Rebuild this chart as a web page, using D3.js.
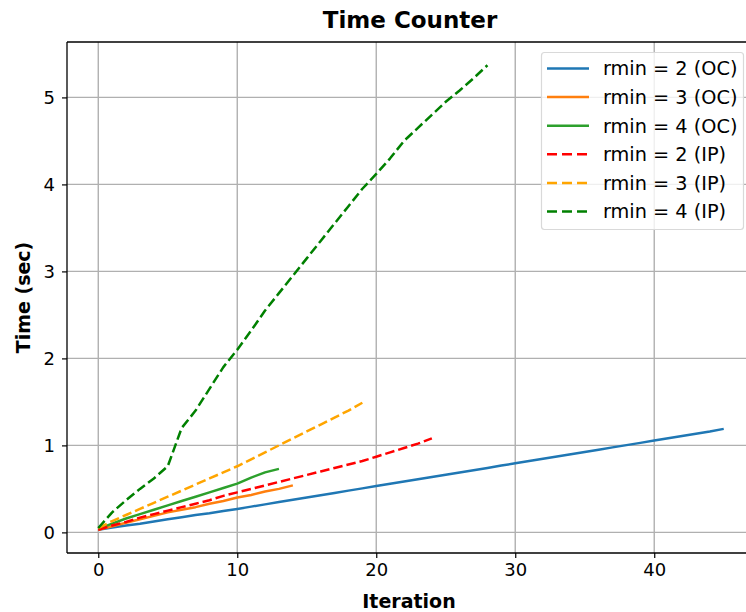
<!DOCTYPE html>
<html>
<head>
<meta charset="utf-8">
<script src="https://cdn.jsdelivr.net/npm/d3@7/dist/d3.min.js"></script>
<style>
  html, body { margin: 0; padding: 0; background: #fff; }
  svg { display: block; font-family: "DejaVu Sans", sans-serif; }
</style>
</head>
<body>
<svg id="chart" width="746" height="612"></svg>
<script>
// Time per iteration for each rmin setting (OC = solid, IP = dashed)
const ocR2 = [0.03,0.055,0.08,0.10,0.125,0.15,0.175,0.20,0.22,0.245,0.27,
  0.296,0.322,0.349,0.375,0.401,0.427,0.453,0.48,0.506,0.532,
  0.558,0.584,0.61,0.637,0.663,0.689,0.715,0.741,0.768,0.794,
  0.82,0.846,0.872,0.898,0.925,0.951,0.977,1.003,1.029,1.056,
  1.082,1.108,1.134,1.16,1.19];
const ocR3 = [0.03,0.07,0.11,0.15,0.19,0.23,0.26,0.29,0.33,0.36,0.40,0.43,0.47,0.50,0.54];
const ocR4 = [0.04,0.10,0.16,0.21,0.26,0.31,0.36,0.41,0.46,0.51,0.56,0.63,0.69,0.73];
const ipR2 = [0.03,0.08,0.12,0.17,0.21,0.25,0.29,0.33,0.37,0.42,0.46,0.50,0.54,0.58,0.62,
  0.66,0.70,0.74,0.78,0.82,0.87,0.92,0.97,1.02,1.08];
const ipR3 = [0.05,0.13,0.20,0.27,0.34,0.41,0.48,0.55,0.62,0.69,0.76,0.84,0.92,1.00,1.08,
  1.16,1.24,1.32,1.40,1.49];
const ipR4 = [0.05,0.23,0.37,0.50,0.62,0.76,1.20,1.40,1.65,1.90,2.10,2.32,2.55,2.75,2.95,
  3.15,3.35,3.55,3.75,3.95,4.12,4.30,4.50,4.65,4.80,4.95,5.08,5.22,5.37];

const seriesNames = ["rmin = 2 (OC)","rmin = 3 (OC)","rmin = 4 (OC)",
                     "rmin = 2 (IP)","rmin = 3 (IP)","rmin = 4 (IP)"];
const seriesValues = [ocR2, ocR3, ocR4, ipR2, ipR3, ipR4];
const seriesColors = ["#1f77b4","#ff7f0e","#2ca02c","#ff0000","#ffa500","#008000"];
const seriesDashed = [false,false,false,true,true,true];

const xTicks = [0,10,20,30,40];
const yTicks = [0,1,2,3,4,5];

const svg = d3.select("#chart");
const plot = { left: 67, right: 755, top: 42, bottom: 553 };

const x = d3.scaleLinear().domain([-2.25, 47.25]).range([plot.left, plot.right]);
const y = d3.scaleLinear().domain([-0.237, 5.637]).range([plot.bottom, plot.top]);

const gridColor = "#b0b0b0";

// grid
const grid = svg.append("g");
grid.selectAll("line.gx").data(xTicks).join("line")
  .attr("x1", d => x(d)).attr("x2", d => x(d))
  .attr("y1", plot.top).attr("y2", plot.bottom)
  .attr("stroke", gridColor).attr("stroke-width", 1.4);
grid.selectAll("line.gy").data(yTicks).join("line")
  .attr("y1", d => y(d)).attr("y2", d => y(d))
  .attr("x1", plot.left).attr("x2", plot.right)
  .attr("stroke", gridColor).attr("stroke-width", 1.4);

// series lines
const line = d3.line().x((d, i) => x(i)).y(d => y(d));
seriesValues.forEach((vals, k) => {
  svg.append("path")
    .datum(vals)
    .attr("d", line)
    .attr("fill", "none")
    .attr("stroke", seriesColors[k])
    .attr("stroke-width", 2.5)
    .attr("stroke-linejoin", "round")
    .attr("stroke-dasharray", seriesDashed[k] ? "9.5,4" : null);
});

// spines
const spine = svg.append("g").attr("stroke", "#000").attr("stroke-width", 1.3);
spine.append("line").attr("x1", plot.left).attr("x2", plot.left)
  .attr("y1", plot.top).attr("y2", plot.bottom);
spine.append("line").attr("x1", plot.left).attr("x2", plot.right)
  .attr("y1", plot.bottom).attr("y2", plot.bottom);
spine.append("line").attr("x1", plot.left).attr("x2", plot.right)
  .attr("y1", plot.top).attr("y2", plot.top);

// axes
const xAxis = d3.axisBottom(x).tickValues(xTicks).tickSize(5).tickPadding(5).tickFormat(d3.format("d"));
const yAxis = d3.axisLeft(y).tickValues(yTicks).tickSize(5).tickPadding(7).tickFormat(d3.format("d"));

const gx = svg.append("g").attr("transform", `translate(0,${plot.bottom})`).call(xAxis);
const gy = svg.append("g").attr("transform", `translate(${plot.left},0)`).call(yAxis);
[gx, gy].forEach(g => {
  g.select(".domain").remove();
  g.selectAll(".tick line").attr("stroke", "#000").attr("stroke-width", 1.2);
  g.selectAll(".tick text").attr("fill", "#000")
    .style("font-family", "DejaVu Sans").style("font-size", "18px");
});

// title and axis labels
svg.append("text").attr("x", 410).attr("y", 28)
  .attr("text-anchor", "middle")
  .style("font-size", "23px").style("font-weight", "bold")
  .text("Time Counter");
svg.append("text").attr("x", 409).attr("y", 608)
  .attr("text-anchor", "middle")
  .style("font-size", "19px").style("font-weight", "bold")
  .text("Iteration");
svg.append("text")
  .attr("transform", `translate(30,${(plot.top + plot.bottom) / 2}) rotate(-90)`)
  .attr("text-anchor", "middle")
  .style("font-size", "19px").style("font-weight", "bold")
  .text("Time (sec)");

// legend
const legend = svg.append("g");
legend.append("rect")
  .attr("x", 541.5).attr("y", 52.5).attr("width", 202).attr("height", 177)
  .attr("rx", 3).attr("ry", 3)
  .attr("fill", "#fff").attr("fill-opacity", 0.8)
  .attr("stroke", "#d9d9d9").attr("stroke-width", 1.2);
const rowY = d3.scaleLinear().domain([0, 5]).range([68.5, 211.5]);
seriesNames.forEach((name, k) => {
  const yy = rowY(k);
  legend.append("line")
    .attr("x1", 547).attr("x2", 589).attr("y1", yy).attr("y2", yy)
    .attr("stroke", seriesColors[k]).attr("stroke-width", 2.5)
    .attr("stroke-dasharray", seriesDashed[k] ? "10,5" : null);
  legend.append("text")
    .attr("x", 603).attr("y", yy).attr("dy", "0.36em")
    .style("font-size", "19.3px")
    .text(name);
});
</script>
</body>
</html>
